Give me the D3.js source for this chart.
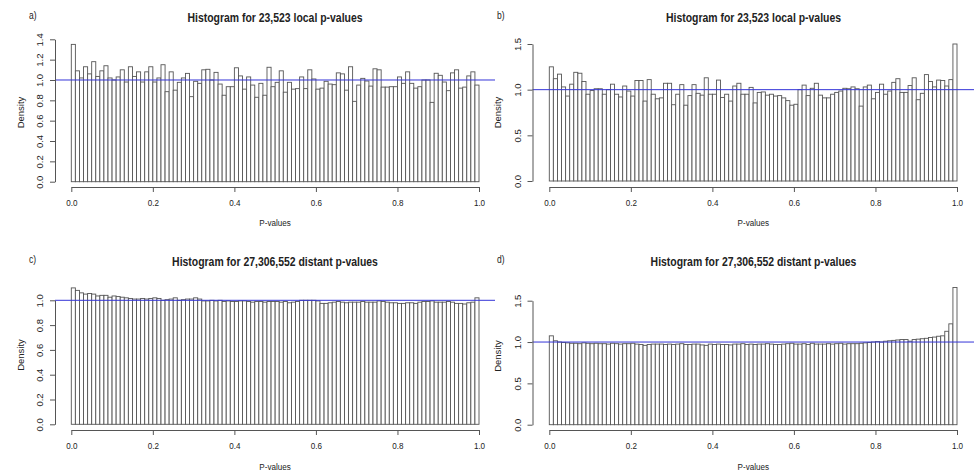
<!DOCTYPE html>
<html>
<head>
<meta charset="utf-8">
<script src="https://cdn.jsdelivr.net/npm/d3@7"></script>
<style>
  html, body { margin: 0; padding: 0; background: #fff; }
  svg { display: block; }
  text { font-family: "Liberation Sans", Arial, sans-serif; fill: #222; }
</style>
</head>
<body>
<svg id="chart" width="974" height="471"></svg>
<script>
// ---------------- data ----------------
const panelLetters = ["a)", "b)", "c)", "d)"];
const panelTitles = [
  "Histogram for 23,523 local p-values",
  "Histogram for 23,523 local p-values",
  "Histogram for 27,306,552 distant p-values",
  "Histogram for 27,306,552 distant p-values"
];
const xTicks = [0, 0.2, 0.4, 0.6, 0.8, 1.0];
const yTicksA = [0, 0.2, 0.4, 0.6, 0.8, 1.0, 1.2, 1.4];
const yTicksB = [0, 0.5, 1.0, 1.5];
const yTicksC = [0, 0.2, 0.4, 0.6, 0.8, 1.0];
const yTicksD = [0, 0.5, 1.0, 1.5];
const binWidth = 0.01;
const refLine = 1;

const densityA = [
  1.35, 1.09, 1.02, 1.13, 1.06, 1.18, 1.035, 1.09, 1.14, 1.02,
  1.00, 1.03, 1.10, 0.98, 1.13, 1.035, 1.08, 0.98, 1.08, 1.13,
  0.98, 1.02, 1.15, 0.885, 1.08, 0.90, 0.977, 1.02, 1.065, 0.836,
  0.987, 0.967, 1.10, 1.105, 1.00, 1.075, 0.96, 0.85, 0.934, 0.934,
  1.12, 1.04, 0.91, 1.03, 0.95, 0.83, 0.967, 0.85, 1.125, 0.934,
  0.977, 1.09, 0.88, 0.977, 0.91, 0.915, 1.03, 0.915, 1.10, 1.01,
  0.91, 0.92, 0.987, 0.96, 0.954, 1.07, 1.06, 0.90, 1.13, 0.79,
  0.95, 1.016, 0.99, 0.94, 1.11, 1.10, 0.93, 0.93, 0.934, 0.934,
  1.03, 0.967, 1.08, 0.967, 0.92, 0.934, 1.00, 1.00, 0.78, 1.066,
  1.046, 0.98, 0.895, 1.07, 1.10, 0.92, 0.93, 1.04, 1.08, 0.95
];
const densityB = [
  1.25, 1.12, 1.17, 1.03, 0.93, 1.06, 1.19, 1.18, 1.09, 0.95,
  0.99, 1.01, 1.01, 0.95, 1.00, 1.06, 0.95, 0.92, 1.04, 0.985,
  0.93, 1.10, 1.10, 0.875, 1.11, 0.95, 0.90, 0.91, 1.07, 1.07,
  0.835, 0.95, 1.055, 0.83, 0.935, 1.055, 0.96, 0.94, 1.13, 0.95,
  0.95, 1.105, 0.915, 0.95, 0.875, 1.04, 1.07, 0.95, 0.95, 1.025,
  0.855, 0.97, 0.975, 0.94, 0.95, 0.93, 0.935, 0.91, 0.88, 0.83,
  0.84, 1.00, 1.05, 0.935, 1.015, 1.07, 0.94, 0.91, 0.91, 0.95,
  0.97, 0.985, 1.015, 1.01, 1.03, 1.01, 0.82, 1.03, 1.05, 0.90,
  0.97, 1.06, 0.95, 0.985, 1.08, 1.12, 0.97, 0.97, 1.045, 1.13,
  0.89, 0.96, 1.165, 1.09, 1.03, 1.105, 1.10, 1.04, 1.11, 1.50
];
const densityC = [
  1.10, 1.08, 1.06, 1.05, 1.055, 1.05, 1.035, 1.04, 1.04, 1.025,
  1.035, 1.03, 1.025, 1.02, 1.015, 1.01, 1.01, 1.015, 1.01, 1.015,
  1.02, 1.015, 1.00, 1.005, 1.01, 1.02, 1.00, 1.005, 1.01, 1.01,
  1.02, 1.01, 0.995, 0.995, 1.00, 0.995, 1.00, 0.99, 0.995, 0.99,
  0.99, 0.995, 0.995, 0.99, 0.985, 0.99, 0.99, 0.985, 0.99, 0.99,
  0.99, 0.985, 0.99, 0.98, 0.985, 0.99, 1.00, 1.00, 1.00, 1.00,
  0.995, 0.975, 0.975, 0.98, 0.985, 0.99, 0.985, 0.98, 0.985, 0.985,
  0.985, 0.99, 0.985, 0.985, 0.985, 0.995, 0.99, 0.985, 0.98, 0.98,
  0.975, 0.975, 0.98, 0.98, 0.975, 0.985, 0.99, 0.99, 0.995, 0.985,
  0.985, 0.985, 0.99, 0.985, 0.975, 0.975, 0.97, 0.98, 0.985, 1.02
];
const densityD = [
  1.075, 1.015, 1.00, 0.995, 0.99, 0.985, 0.985, 0.98, 0.99, 0.985,
  0.98, 0.985, 0.98, 0.98, 0.975, 0.985, 0.98, 0.975, 0.98, 0.98,
  0.985, 0.975, 0.97, 0.96, 0.97, 0.975, 0.975, 0.975, 0.97, 0.975,
  0.97, 0.975, 0.98, 0.97, 0.97, 0.975, 0.975, 0.965, 0.96, 0.975,
  0.97, 0.975, 0.97, 0.97, 0.965, 0.975, 0.975, 0.98, 0.97, 0.975,
  0.97, 0.975, 0.975, 0.98, 0.975, 0.97, 0.97, 0.975, 0.98, 0.985,
  0.975, 0.975, 0.98, 0.97, 0.985, 0.975, 0.975, 0.975, 0.98, 0.975,
  0.98, 0.985, 0.975, 0.98, 0.98, 0.98, 0.985, 0.99, 0.995, 1.00,
  1.005, 1.00, 1.01, 1.015, 1.02, 1.025, 1.03, 1.03, 1.01, 1.03,
  1.035, 1.04, 1.045, 1.055, 1.06, 1.07, 1.075, 1.13, 1.22, 1.66
];

// ---------------- layout ----------------
const SX = 0.85;      // horizontal squash of the original picture's text
const TSX = 0.87;
const panels = [
  { data: densityA, yTicks: yTicksA, yFmt: ".1f", x0: 71.3, x1: 479, y0: 181.7, yTop: 39.3, yMax: 1.4,
    yAxisX: 55, xAxisY: 187, plotL: 55, plotR: 495, titleY: 18, letterX: 29, letterY: 15, densY: 112.5, pvY: 223 },
  { data: densityB, yTicks: yTicksB, yFmt: ".1f", x0: 549.3, x1: 957, y0: 181, yTop: 44, yMax: 1.5,
    yAxisX: 532.5, xAxisY: 187, plotL: 532.5, plotR: 974, titleY: 18, letterX: 497, letterY: 15, densY: 112.5, pvY: 223 },
  { data: densityC, yTicks: yTicksC, yFmt: ".1f", x0: 71.3, x1: 479, y0: 424.3, yTop: 300.3, yMax: 1.0,
    yAxisX: 55, xAxisY: 430, plotL: 55, plotR: 495, titleY: 262, letterX: 29, letterY: 259, densY: 355, pvY: 466.5 },
  { data: densityD, yTicks: yTicksD, yFmt: ".1f", x0: 549.3, x1: 957, y0: 424.7, yTop: 300.7, yMax: 1.5,
    yAxisX: 532.5, xAxisY: 430, plotL: 532.5, plotR: 974, titleY: 262, letterX: 497, letterY: 259, densY: 356, pvY: 466.5 }
];

const svg = d3.select("#chart");
const bins = d3.range(100).map(i => +(i * binWidth).toFixed(2));
const inkColor = "#555";

function hText(g, x, y, str, size, weight, sx, anchor) {
  return g.append("text")
    .attr("transform", `translate(${x},${y}) scale(${sx},1)`)
    .attr("text-anchor", anchor || "middle")
    .attr("dy", "0.35em")
    .style("font-size", size + "px")
    .style("font-weight", weight || "normal")
    .text(str);
}

panels.forEach((p, k) => {
  const g = svg.append("g");
  const x = d3.scaleLinear().domain([0, 1]).range([p.x0, p.x1]);
  const y = d3.scaleLinear().domain([0, p.yMax]).range([p.y0, p.yTop]);

  // bars
  g.append("g").selectAll("rect")
    .data(p.data)
    .join("rect")
    .attr("x", (d, i) => x(bins[i]))
    .attr("width", (d, i) => x(bins[i] + binWidth) - x(bins[i]))
    .attr("y", d => y(d))
    .attr("height", d => y(0) - y(d))
    .attr("fill", "#fff")
    .attr("stroke", inkColor)
    .attr("stroke-width", 0.9);

  // reference line at density 1
  g.append("line")
    .attr("x1", p.plotL).attr("x2", p.plotR)
    .attr("y1", y(refLine)).attr("y2", y(refLine))
    .attr("stroke", "#3535d8").attr("stroke-width", 1);

  // x axis
  const xa = g.append("g")
    .attr("transform", `translate(0,${p.xAxisY})`)
    .call(d3.axisBottom(x).tickValues(xTicks).tickFormat(d3.format(".1f")).tickSize(5).tickSizeOuter(0));
  xa.select(".domain").attr("stroke", inkColor);
  xa.selectAll(".tick line").attr("stroke", inkColor);
  xa.selectAll(".tick text")
    .attr("y", 16).attr("dy", "0.35em")
    .attr("transform", `scale(${SX},1)`)
    .style("font-size", "9.5px").style("font-family", "Liberation Sans, Arial, sans-serif")
    .attr("fill", "#222");

  // y axis
  const ya = g.append("g")
    .attr("transform", `translate(${p.yAxisX},0)`)
    .call(d3.axisLeft(y).tickValues(p.yTicks).tickFormat(d3.format(p.yFmt)).tickSize(5).tickSizeOuter(0));
  ya.select(".domain").attr("stroke", inkColor);
  ya.selectAll(".tick line").attr("stroke", inkColor);
  ya.selectAll(".tick text")
    .attr("x", 0).attr("y", -15).attr("dy", "0.35em")
    .attr("text-anchor", "middle")
    .attr("transform", "rotate(-90)")
    .style("font-size", "9.5px").style("font-family", "Liberation Sans, Arial, sans-serif")
    .attr("fill", "#222");

  // titles and labels
  const cx = (p.plotL + (k % 2 === 1 ? 974.5 : p.plotR)) / 2;
  hText(g, cx, p.titleY, panelTitles[k], 12, "bold", TSX);
  hText(g, p.letterX, p.letterY, panelLetters[k], 10, "normal", SX, "start");
  hText(g, (p.plotL + p.plotR) / 2, p.pvY, "P-values", 9.5, "normal", SX);
  g.append("text")
    .attr("transform", `translate(${p.yAxisX - 34.5},${p.densY}) rotate(-90)`)
    .attr("text-anchor", "middle")
    .attr("dy", "0.35em")
    .style("font-size", "9.5px")
    .text("Density");
});
</script>
</body>
</html>
